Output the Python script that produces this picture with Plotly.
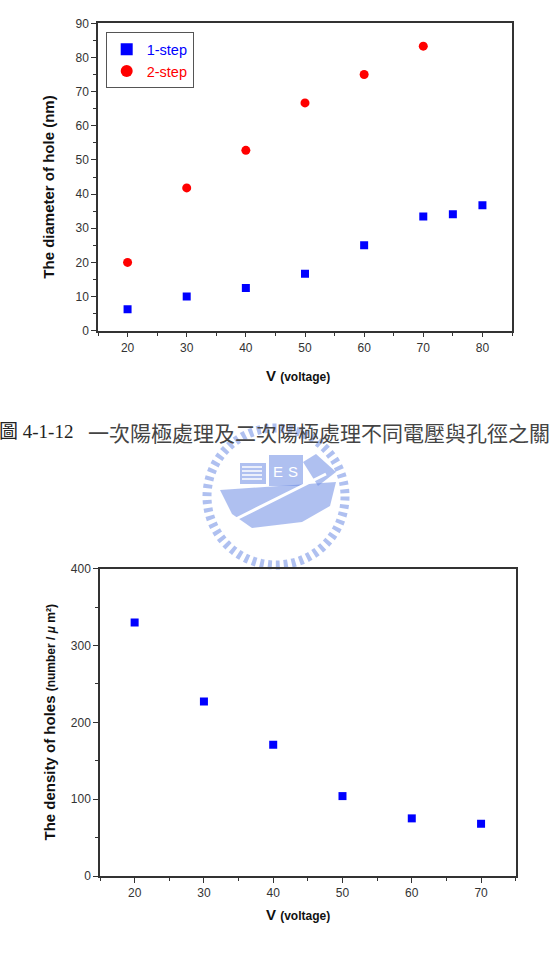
import plotly.graph_objects as go

# ---------------- data ----------------
v_1step = [20, 30, 40, 50, 60, 70, 75, 80]
d_1step = [6.3, 10.0, 12.5, 16.7, 25.0, 33.4, 34.1, 36.7]
v_2step = [20, 30, 40, 50, 60, 70]
d_2step = [20.0, 41.8, 52.8, 66.7, 75.0, 83.3]

v_density = [20, 30, 40, 50, 60, 70]
density = [330, 227, 171, 104, 75, 68]

W, H = 556, 961

def px(x):
    return x / W

def py(y):
    return 1 - y / H

AX = "#333333"
TICKFONT = dict(family="Liberation Sans, Arial, sans-serif", size=12, color="#333333")

fig = go.Figure()

fig.add_trace(go.Scatter(
    x=v_1step, y=d_1step, mode="markers",
    name="<span style='color:#0000ff'>1-step</span>",
    marker=dict(symbol="square", size=8, color="#0000ff"),
    xaxis="x", yaxis="y"))
fig.add_trace(go.Scatter(
    x=v_2step, y=d_2step, mode="markers",
    name="<span style='color:#ff0000'>2-step</span>",
    marker=dict(symbol="circle", size=9, color="#ff0000"),
    xaxis="x", yaxis="y"))
fig.add_trace(go.Scatter(
    x=v_density, y=density, mode="markers", showlegend=False,
    marker=dict(symbol="square", size=8, color="#0000ff"),
    xaxis="x2", yaxis="y2"))

def axis(domain, rng, dtick, minor_dtick, anchor):
    return dict(
        domain=domain, range=rng, dtick=dtick, anchor=anchor,
        showline=True, linecolor=AX, linewidth=1.5, mirror=True,
        ticks="outside", ticklen=5, tickwidth=1.2, tickcolor=AX,
        minor=dict(dtick=minor_dtick, ticks="outside", ticklen=3.5,
                   tickwidth=1.2, tickcolor=AX, showgrid=False),
        showgrid=False, zeroline=False, tickfont=TICKFONT,
        automargin=False, fixedrange=True)

fig.update_layout(
    width=W, height=H,
    margin=dict(l=0, r=0, t=0, b=0),
    paper_bgcolor="white", plot_bgcolor="white",
    xaxis=axis([px(98), px(512)], [15, 85], 10, 5, "y"),
    yaxis=axis([py(330.7), py(23.3)], [0, 90], 10, 5, "x"),
    xaxis2=axis([px(100), px(515.7)], [15, 75], 10, 5, "y2"),
    yaxis2=axis([py(876), py(568.7)], [0, 400], 100, 50, "x2"),
    legend=dict(x=px(105.7), y=py(32.3), xanchor="left", yanchor="top",
                bordercolor="#555555", borderwidth=1, bgcolor="white",
                font=dict(family="Liberation Sans, Arial, sans-serif", size=14.5),
                tracegroupgap=0, itemsizing="constant"),
    showlegend=True,
)

TITLEFONT = dict(family="Liberation Sans, Arial, sans-serif", size=15, color="#111111")

def note(x, y, text, font, **kw):
    d = dict(x=px(x), y=py(y), xref="paper", yref="paper", showarrow=False,
             xanchor="center", yanchor="middle", text=text, font=font)
    d.update(kw)
    return d

ann = []
ann.append(note(49, 186.7, "<b>The diameter of hole (nm)</b>", TITLEFONT, textangle=-90))
ann.append(note(49, 722.5,
                "<b>The density of holes <span style='font-size:12px'>(number / <i>μ</i> m²)</span></b>",
                TITLEFONT, textangle=-90))
xt = "<b>V <span style='font-size:12px'>(voltage)</span></b>"
ann.append(note(298, 375.5, xt, TITLEFONT))
ann.append(note(297.5, 914, xt, TITLEFONT))
# caption
ann.append(note(-3, 432, "圖 4-1-12",
                dict(family="Liberation Serif, Noto Sans CJK TC", size=19, color="#222222"),
                xanchor="left"))
ann.append(note(86, 432, "一次陽極處理及二次陽極處理不同電壓與孔徑之關",
                dict(family="Noto Sans CJK TC", size=21, color="#444444"),
                xanchor="left"))

# watermark logo (decorative)
LB = "rgba(110,140,228,0.55)"
ann.append(note(278, 471, "E", dict(family="Liberation Sans", size=15, color="white")))
ann.append(note(293, 471, "S", dict(family="Liberation Sans", size=15, color="white")))
fig.update_layout(annotations=ann)

shapes = []
shapes.append(dict(type="circle", xref="paper", yref="paper",
                   x0=px(207), x1=px(345), y0=py(565), y1=py(428),
                   line=dict(color=LB, width=9, dash="4px,4px"), layer="below"))
shapes.append(dict(type="path", xref="paper", yref="paper", layer="below",
                   path=f"M {px(220)} {py(490)} L {px(336)} {py(482)} L {px(330)} {py(506)} "
                        f"L {px(302)} {py(522)} L {px(252)} {py(528)} L {px(232)} {py(514)} Z",
                   fillcolor=LB, line=dict(width=0)))
shapes.append(dict(type="rect", xref="paper", yref="paper", layer="below",
                   x0=px(240), x1=px(266), y0=py(484), y1=py(463),
                   fillcolor=LB, line=dict(width=0)))
for yy in [467, 471, 475, 479]:
    shapes.append(dict(type="line", xref="paper", yref="paper", layer="below",
                       x0=px(242), x1=px(262), y0=py(yy), y1=py(yy),
                       line=dict(color="white", width=1.5)))
shapes.append(dict(type="rect", xref="paper", yref="paper", layer="below",
                   x0=px(269), x1=px(303), y0=py(486), y1=py(455),
                   fillcolor=LB, line=dict(width=0)))
shapes.append(dict(type="path", xref="paper", yref="paper", layer="below",
                   path=f"M {px(303)} {py(462)} L {px(316)} {py(454)} L {px(336)} {py(472)} "
                        f"L {px(318)} {py(486)} Z",
                   fillcolor=LB, line=dict(width=0)))
shapes.append(dict(type="line", xref="paper", yref="paper", layer="below",
                   x0=px(230), x1=px(326), y0=py(522), y1=py(474),
                   line=dict(color="white", width=3)))
fig.update_layout(shapes=shapes)

fig.write_html("out.html")
